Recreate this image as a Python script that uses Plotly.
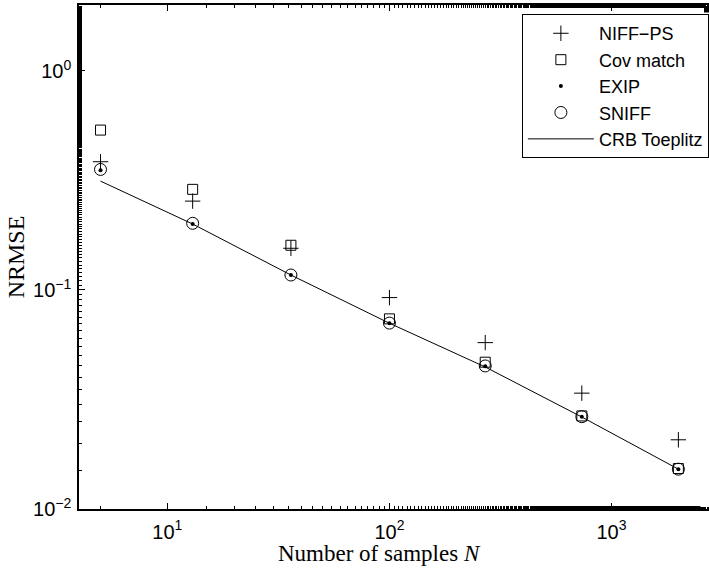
import numpy as np
import plotly.graph_objects as go

N = [5, 13, 36, 100, 270, 735, 2000]
niff_ps = [0.385, 0.2545, 0.155, 0.0923, 0.0575, 0.0338, 0.0207]
cov_match = [0.537, 0.288, 0.160, 0.0738, 0.0468, 0.0266, 0.0153]
exip = [0.352, 0.2, 0.117, 0.0705, 0.0448, 0.0264, 0.0152]
sniff = [0.355, 0.2015, 0.117, 0.0706, 0.045, 0.0264, 0.0152]
crb = [0.314, 0.2, 0.117, 0.0705, 0.0445, 0.0263, 0.0152]

xtickvals = [10, 100, 1000]
xticktext = ["10<sup>1</sup>", "10<sup>2</sup>", "10<sup>3</sup>"]
ytickvals = [0.01, 0.1, 1]
yticktext = ["10<sup>−2</sup>", "10<sup>−1</sup>", "10<sup>0</sup>"]

fig = go.Figure()
fig.add_trace(go.Scatter(x=N, y=crb, mode="lines", name="CRB Toeplitz",
                         line=dict(color="black", width=1), legendrank=5))
fig.add_trace(go.Scatter(x=N, y=niff_ps, mode="markers", name="NIFF−PS",
                         marker=dict(symbol="cross-thin", size=11, color="black",
                                     line=dict(width=1, color="black")), legendrank=1))
fig.add_trace(go.Scatter(x=N, y=cov_match, mode="markers", name="Cov match",
                         marker=dict(symbol="square-open", size=10, color="black",
                                     line=dict(width=1, color="black")), legendrank=2))
fig.add_trace(go.Scatter(x=N, y=exip, mode="markers", name="EXIP",
                         marker=dict(symbol="circle", size=4, color="black"), legendrank=3))
fig.add_trace(go.Scatter(x=N, y=sniff, mode="markers", name="SNIFF",
                         marker=dict(symbol="circle-open", size=12, color="black",
                                     line=dict(width=1, color="black")), legendrank=4))

axis_common = dict(
    type="log", showgrid=False, zeroline=False, showline=True, linecolor="black",
    linewidth=1.5, mirror="allticks", ticks="inside", ticklen=6, tickwidth=1,
    tickcolor="black", tickfont=dict(family="Liberation Sans, Arial", size=20, color="black"),
    minor=dict(ticks="inside", ticklen=3, tickwidth=1, tickcolor="black"),
)

fig.update_xaxes(**axis_common, range=[np.log10(4), 3.43], tickvals=xtickvals, ticktext=xticktext,
                 ticklabelstandoff=4)
fig.update_yaxes(**axis_common, range=[-2, np.log10(2)], tickvals=ytickvals, ticktext=yticktext,
                 ticklabelstandoff=2,
                 title=dict(text="NRMSE", standoff=2,
                            font=dict(family="Liberation Serif, Times New Roman", size=24, color="black")))

fig.add_annotation(text="Number of samples <i>N</i>", xref="paper", yref="paper",
                   x=0.478, y=-0.088, xanchor="center", yanchor="middle", showarrow=False,
                   font=dict(family="Liberation Serif, Times New Roman", size=23, color="black"))

fig.add_shape(type="rect", xref="paper", yref="paper", x0=0.9895, x1=1.02, y0=0.004, y1=0.985,
              fillcolor="white", line=dict(width=0), layer="above")

fig.update_layout(
    width=709, height=572,
    margin=dict(l=79, r=0, t=5, b=63),
    plot_bgcolor="white", paper_bgcolor="white",
    showlegend=True,
    legend=dict(x=1.003, xanchor="right", y=0.982, yanchor="top",
                bordercolor="black", borderwidth=1, bgcolor="white",
                font=dict(family="Liberation Sans, Arial", size=18, color="black"),
                itemwidth=66, tracegroupgap=0),
)

fig.write_html("out.html")
